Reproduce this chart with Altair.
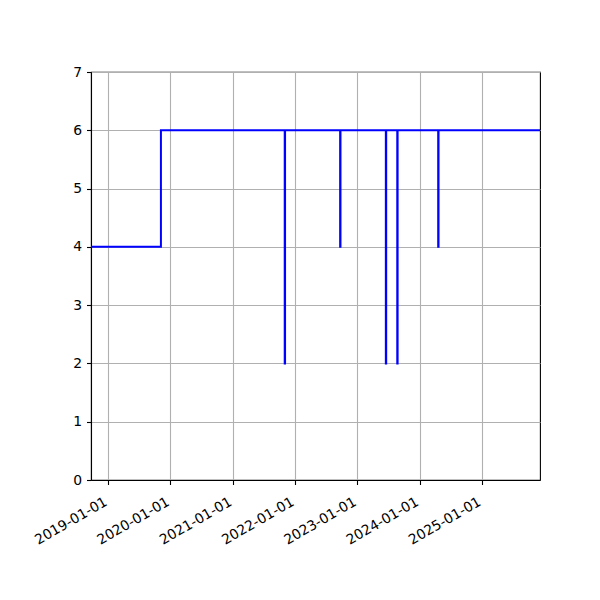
import altair as alt
import pandas as pd

# step points (date, value); spikes last about one day
dates = [
    "2018-09-22", "2019-11-06",
    "2021-11-01", "2021-11-03",
    "2022-09-22", "2022-09-24",
    "2023-06-17", "2023-06-19",
    "2023-08-23", "2023-08-25",
    "2024-04-19", "2024-04-21",
    "2025-12-07",
]
values = [4, 6, 2, 6, 4, 6, 2, 6, 2, 6, 4, 6, 6]
tick_years = [2019, 2020, 2021, 2022, 2023, 2024, 2025]
y_ticks = [0, 1, 2, 3, 4, 5, 6, 7]

df = pd.DataFrame({"date": dates, "value": values})

x_domain = [alt.DateTime(year=2018, month=9, date=22, utc=True),
            alt.DateTime(year=2025, month=12, date=7, utc=True)]
x_vals = [alt.DateTime(year=y, month=1, date=1, utc=True) for y in tick_years]

font = "DejaVu Sans"

chart = alt.Chart(df).mark_line(
    interpolate="step-after", color="#0000ff", strokeWidth=2, clip=True
).encode(
    x=alt.X("date:T",
            scale=alt.Scale(type="utc", domain=x_domain, nice=False),
            axis=alt.Axis(values=x_vals, format="%Y-%m-%d", title=None,
                          labelAngle=-30, labelAlign="right", labelBaseline="top",
                          labelOffset=-6, labelPadding=10)),
    y=alt.Y("value:Q",
            scale=alt.Scale(domain=[0, 7], nice=False, zero=True),
            axis=alt.Axis(values=y_ticks, title=None, format="d", labelPadding=5)),
).properties(
    width=449, height=408,
    background="white",
    autosize=alt.AutoSizeParams(type="none"),
    padding={"left": 83, "top": 64, "right": 52, "bottom": 112},
).configure_view(
    stroke="black", strokeWidth=1.1
).configure_axis(
    grid=True, gridColor="#b0b0b0", gridWidth=1.1,
    domainColor="black", domainWidth=1.1,
    tickColor="black", tickWidth=1.1, tickSize=4.5,
    labelFont=font, labelFontSize=13.9, labelColor="black",
    labelFlush=False, labelOverlap=False,
)

chart.save("out.html", embed_options={"renderer": "svg", "actions": False})
